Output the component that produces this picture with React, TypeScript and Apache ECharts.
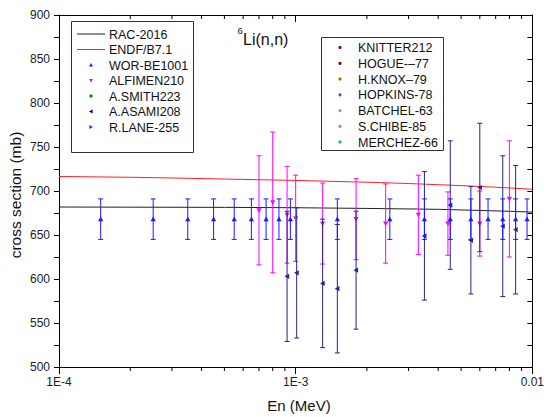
import React, { useEffect, useRef } from "react";
import * as echarts from "echarts";

// ---- data ----
const RAC_E = [1e-4, 5e-4, 1e-3, 2e-3, 4e-3, 6e-3, 8e-3, 1e-2];
const RAC_V = [681.8, 681.4, 681.0, 680.2, 679.2, 677.9, 676.9, 676.0];

const ENDF_E = [1e-4, 2e-4, 3e-4, 5e-4, 1e-3, 2e-3, 3e-3, 5e-3, 7e-3, 1e-2];
const ENDF_V = [716.5, 715.6, 714.8, 713.6, 712.0, 710.0, 708.5, 706.1, 704.3, 702.0];

const WOR_E = [1.5e-4, 2.5e-4, 3.5e-4, 4.5e-4, 5.5e-4, 6.5e-4, 7.5e-4, 8.5e-4, 9.5e-4, 1.5e-3, 2.5e-3, 3.5e-3, 4.5e-3, 5.5e-3, 6.5e-3, 7.5e-3, 8.5e-3, 9.5e-3];
const WOR_V = [668, 668, 668, 668, 668, 668, 668, 668, 668, 668, 668, 668, 668, 668, 668, 668, 668, 668];
const WOR_D = [23, 23, 23, 23, 23, 23, 23, 23, 23, 23, 23, 23, 23, 23, 23, 23, 23, 23];

const ALF_E = [7e-4, 8e-4, 9.2e-4, 1.0e-3, 1.3e-3, 1.8e-3, 2.4e-3, 3.3e-3, 4.4e-3, 6e-3, 8e-3];
const ALF_V = [678, 687, 673, 669, 663, 668, 663, 673, 663, 663, 691];
const ALF_D = [62, 80, 55, 49, 46, 46, 45, 45, 36, 37, 66];

const ASA_E = [9.2e-4, 1.01e-3, 1.3e-3, 1.5e-3, 1.8e-3, 3.5e-3, 4.5e-3, 5.5e-3, 6e-3, 7.5e-3, 8.5e-3];
const ASA_V = [603, 607, 595, 589, 610, 649, 684, 644, 704, 660, 656];
const ASA_D = [74, 74, 73, 73, 67, 73, 73, 61, 73, 80, 73];

const LEGEND1 = ["RAC-2016", "ENDF/B7.1", "WOR-BE1001", "ALFIMEN210", "A.SMITH223", "A.ASAMI208", "R.LANE-255"];
const LEGEND2 = ["KNITTER212", "HOGUE-–77", "H.KNOX–79", "HOPKINS-78", "BATCHEL-63", "S.CHIBE-85", "MERCHEZ-66"];

const X_LABELS: Record<string, string> = { "-4": "1E-4", "-3": "1E-3", "-2": "0.01" };

// ---- styles ----
const FONT = "'Liberation Sans', Arial, sans-serif";
const C_WOR = "#1a1aff";
const C_ALF = "#ff00ff";
const C_ASA = "#24248f";

function markerPoints(kind: string, x: number, y: number, s: number) {
  switch (kind) {
    case "up":
      return [[x, y - s], [x - s, y + s * 0.8], [x + s, y + s * 0.8]];
    case "down":
      return [[x, y + s], [x - s, y - s * 0.8], [x + s, y - s * 0.8]];
    case "left":
      return [[x - s, y], [x + s * 0.8, y - s], [x + s * 0.8, y + s]];
    case "right":
      return [[x + s, y], [x - s * 0.8, y - s], [x - s * 0.8, y + s]];
    default:
      return [[x, y - s], [x + s, y], [x, y + s], [x - s, y]];
  }
}

function errSeries(name: string, E: number[], V: number[], D: number[], color: string, kind: string) {
  return {
    type: "custom",
    name,
    xAxisIndex: 0,
    yAxisIndex: 0,
    data: E.map((e, i) => [e, V[i], D[i]]),
    encode: { x: 0, y: 1 },
    z: 5,
    renderItem: (_p: any, api: any) => {
      const x = api.value(0);
      const y = api.value(1);
      const d = api.value(2);
      const c = api.coord([x, y]);
      const t = api.coord([x, y + d]);
      const b = api.coord([x, y - d]);
      const cw = 2.5;
      const ls = { stroke: color, lineWidth: 1 };
      return {
        type: "group",
        children: [
          { type: "line", shape: { x1: c[0], y1: t[1], x2: c[0], y2: b[1] }, style: ls },
          { type: "line", shape: { x1: c[0] - cw, y1: t[1], x2: c[0] + cw, y2: t[1] }, style: ls },
          { type: "line", shape: { x1: c[0] - cw, y1: b[1], x2: c[0] + cw, y2: b[1] }, style: ls },
          { type: "polygon", shape: { points: markerPoints(kind, c[0], c[1], 2.6) }, style: { fill: color } },
        ],
      };
    },
  };
}

function buildMinorTicks() {
  const ticks: number[] = [];
  for (const dec of [1e-4, 1e-3]) for (let k = 2; k <= 9; k++) ticks.push(k * dec);
  return ticks;
}

function legendGraphics() {
  const g: any[] = [];
  const box = (x: number, y: number, w: number, h: number) => ({
    type: "rect",
    shape: { x, y, width: w, height: h },
    style: { fill: "#fff", stroke: "#333", lineWidth: 1 },
    z: 10,
  });
  const text = (x: number, y: number, s: string) => ({
    type: "text",
    x,
    y,
    style: { text: s, fill: "#111", font: `12.5px ${FONT}`, textVerticalAlign: "middle" },
    z: 11,
  });
  // legend 1
  g.push(box(71.5, 21.5, 122, 131));
  const y1 = [34, 49.5, 65, 80.5, 96, 111.5, 127];
  const m1: any[] = [
    { line: "#222" },
    { line: "#ff2020" },
    { kind: "up", color: "#1a1aff" },
    { kind: "down", color: "#ff00ff" },
    { kind: "plus", color: "#008000" },
    { kind: "left", color: "#000080" },
    { kind: "right", color: "#8000ff" },
  ];
  LEGEND1.forEach((s, i) => {
    const m = m1[i];
    if (m.line) {
      g.push({ type: "line", shape: { x1: 77, y1: y1[i], x2: 105, y2: y1[i] }, style: { stroke: m.line, lineWidth: 1 }, z: 11 });
    } else {
      g.push({ type: "polygon", shape: { points: markerPoints(m.kind, 91, y1[i], 2) }, style: { fill: m.color }, z: 11 });
    }
    g.push(text(109, y1[i] + 0.5, s));
  });
  // legend 2
  g.push(box(321.5, 37.5, 122, 113));
  const y2 = [47.5, 63.3, 79, 94.8, 110.6, 126.4, 142];
  const c2 = ["#800080", "#800000", "#808000", "#3060c0", "#70a8c0", "#c08850", "#20c040"];
  LEGEND2.forEach((s, i) => {
    g.push({ type: "circle", shape: { cx: 340, cy: y2[i], r: 1.6 }, style: { fill: c2[i] }, z: 11 });
    g.push(text(358, y2[i] + 0.5, s));
  });
  // title
  g.push({ type: "text", x: 237.5, y: 30, style: { text: "6", fill: "#111", font: `9.5px ${FONT}`, textVerticalAlign: "middle" }, z: 11 });
  g.push({ type: "text", x: 243, y: 39, style: { text: "Li(n,n)", fill: "#111", font: `16px ${FONT}`, textVerticalAlign: "middle" }, z: 11 });
  // axis names
  g.push({ type: "text", x: 299, y: 405, style: { text: "En (MeV)", fill: "#111", font: `15px ${FONT}`, textAlign: "center", textVerticalAlign: "middle" }, z: 11 });
  g.push({ type: "text", x: 15, y: 195, rotation: Math.PI / 2, style: { text: "cross section (mb)", fill: "#111", font: `15.5px ${FONT}`, textAlign: "center", textVerticalAlign: "middle" }, z: 11 });
  return g;
}

export default function App() {
  const ref = useRef<HTMLDivElement>(null);
  useEffect(() => {
    if (!ref.current) return;
    const chart = echarts.init(ref.current, null, { renderer: "svg" });
    const axisLine = { show: true, lineStyle: { color: "#000", width: 1 } };
    const minor = buildMinorTicks();
    chart.setOption({
      animation: false,
      backgroundColor: "#fff",
      grid: { left: 59, right: 12, top: 15, bottom: 50, containLabel: false },
      xAxis: [
        {
          type: "log",
          logBase: 10,
          min: 1e-4,
          max: 1e-2,
          position: "bottom",
          axisLine,
          axisTick: { show: true, inside: false, length: 7, lineStyle: { color: "#000" } },
          axisLabel: {
            color: "#222",
            fontFamily: FONT,
            fontSize: 12,
            margin: 9,
            formatter: (v: number) => X_LABELS[String(Math.round(Math.log10(v)))] || "",
          },
          splitLine: { show: false },
        },
        {
          type: "log",
          logBase: 10,
          min: 1e-4,
          max: 1e-2,
          position: "top",
          axisLine,
          axisTick: { show: true, inside: true, length: 7, lineStyle: { color: "#000" } },
          axisLabel: { show: false },
          splitLine: { show: false },
        },
      ],
      yAxis: [
        {
          type: "value",
          min: 500,
          max: 900,
          interval: 50,
          position: "left",
          axisLine,
          axisTick: { show: true, inside: false, length: 5, lineStyle: { color: "#000" } },
          minorTick: { show: true, splitNumber: 2, length: 5, lineStyle: { color: "#000" } },
          axisLabel: { color: "#222", fontFamily: FONT, fontSize: 12, margin: 9 },
          splitLine: { show: false },
        },
        {
          type: "value",
          min: 500,
          max: 900,
          interval: 50,
          position: "right",
          axisLine,
          axisTick: { show: true, inside: true, length: 5, lineStyle: { color: "#000" } },
          minorTick: { show: true, splitNumber: 2, length: 5, lineStyle: { color: "#000" } },
          axisLabel: { show: false },
          splitLine: { show: false },
        },
      ],
      series: [
        {
          type: "custom",
          name: "minorTicks",
          silent: true,
          clip: false,
          data: minor.map((v) => [v, 700]),
          encode: { x: 0, y: 1 },
          renderItem: (params: any, api: any) => {
            const cs = params.coordSys;
            const p = api.coord([api.value(0), 700]);
            const bottom = cs.y + cs.height;
            const top = cs.y;
            const st = { stroke: "#000", lineWidth: 1 };
            return {
              type: "group",
              children: [
                { type: "line", shape: { x1: p[0], y1: bottom, x2: p[0], y2: bottom + 4 }, style: st },
                { type: "line", shape: { x1: p[0], y1: top, x2: p[0], y2: top + 4 }, style: st },
              ],
            };
          },
        },
        {
          type: "line",
          name: "ENDF/B7.1",
          data: ENDF_E.map((e, i) => [e, ENDF_V[i]]),
          showSymbol: false,
          smooth: false,
          lineStyle: { color: "#ff2020", width: 1 },
          z: 3,
        },
        {
          type: "line",
          name: "RAC-2016",
          data: RAC_E.map((e, i) => [e, RAC_V[i]]),
          showSymbol: false,
          lineStyle: { color: "#222", width: 1 },
          z: 3,
        },
        errSeries("ALFIMEN210", ALF_E, ALF_V, ALF_D, C_ALF, "down"),
        errSeries("A.ASAMI208", ASA_E, ASA_V, ASA_D, C_ASA, "left"),
        errSeries("WOR-BE1001", WOR_E, WOR_V, WOR_D, C_WOR, "up"),
      ],
      graphic: legendGraphics(),
    });
    return () => chart.dispose();
  }, []);
  return <div ref={ref} style={{ position: "fixed", left: 0, top: 0, width: 547, height: 417 }} />;
}
